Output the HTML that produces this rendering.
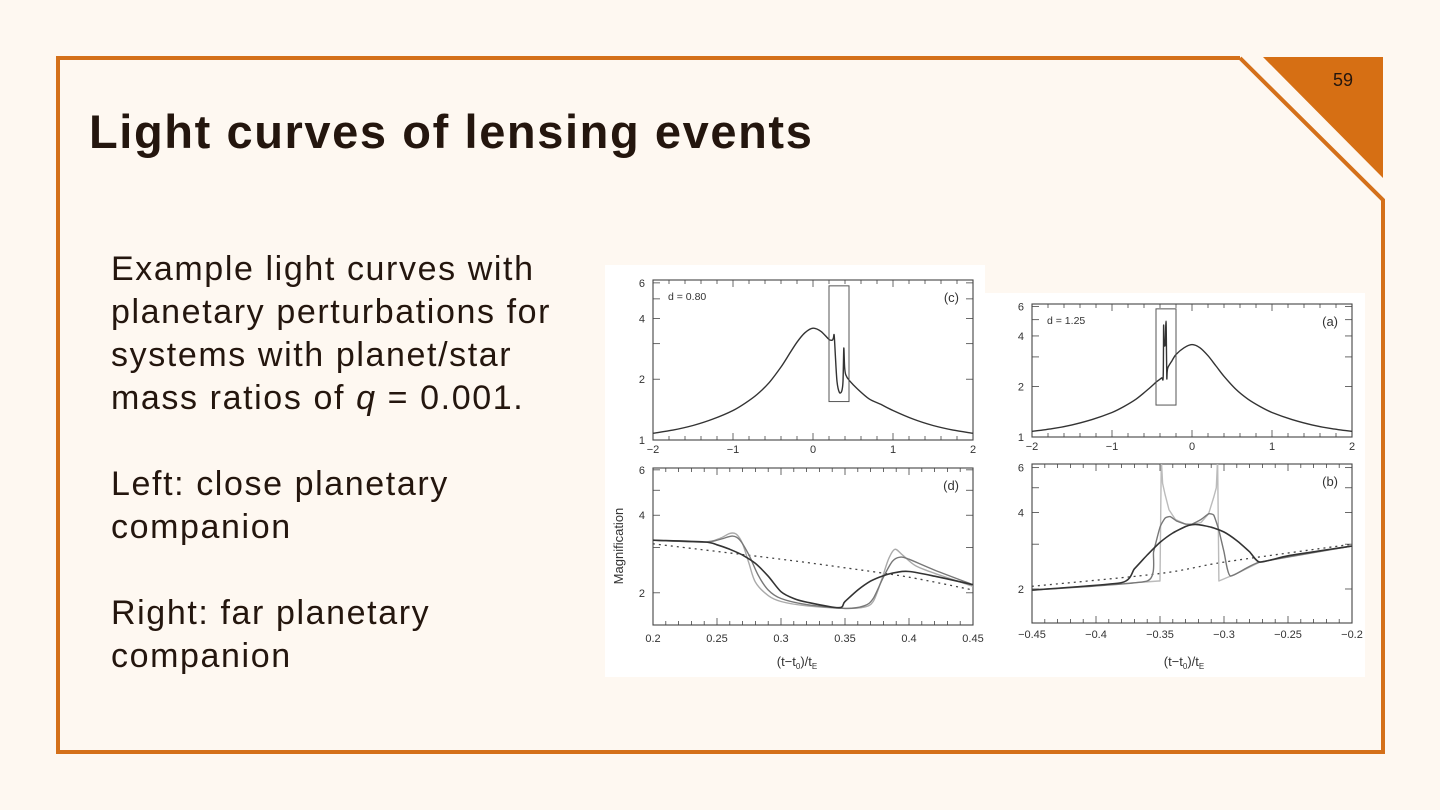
<!DOCTYPE html>
<html><head><meta charset="utf-8">
<style>
html,body{margin:0;padding:0;}
body{width:1440px;height:810px;background:#fef8f1;position:relative;overflow:hidden;font-family:"Liberation Sans",sans-serif;color:#24160e;}
#title{position:absolute;left:89px;top:104px;font-size:47px;font-weight:bold;letter-spacing:1.6px;white-space:nowrap;}
#body-text{position:absolute;left:111px;top:248px;font-size:34px;line-height:43px;letter-spacing:1.6px;white-space:nowrap;}
#body-text p{margin:0 0 43px 0;}
#pg{position:absolute;left:1333px;top:70px;font-size:18px;color:#24160e;}
svg{position:absolute;left:0;top:0;}
</style></head><body>
<svg id="deco" width="1440" height="810">
  <polyline points="1240,58 58,58 58,752 1383,752 1383,200 1240,58" fill="none" stroke="#d4701a" stroke-width="4"/>
  <polygon points="1263,57 1383,57 1383,178" fill="#d66f14"/>
  <rect x="605" y="265" width="380" height="412" fill="#fff"/>
  <rect x="985" y="293" width="380" height="384" fill="#fff"/>
</svg>
<div id="pg">59</div>
<div id="title">Light curves of lensing events</div>
<div id="body-text">
<p>Example light curves with<br>planetary perturbations for<br>systems with planet/star<br>mass ratios of <i>q</i> = 0.001.</p>
<p>Left: close planetary<br>companion</p>
<p>Right: far planetary<br>companion</p>
</div>
<svg id="chart" width="1440" height="810"></svg>
<script>
// Panel c (d=0.80, wide)
const cX=[-2,-1.75,-1.5,-1.25,-1,-0.85,-0.7,-0.55,-0.4,-0.3,-0.2,-0.1,0,0.1,0.2,0.24,0.255,0.265,0.28,0.3,0.33,0.36,0.375,0.385,0.395,0.41,0.45,0.55,0.7,0.85,1,1.25,1.5,1.75,2];
const cY=[1.08,1.12,1.18,1.27,1.4,1.52,1.68,1.92,2.3,2.65,3.05,3.4,3.58,3.45,3.15,3.12,3.2,3.3,2.6,1.95,1.72,1.75,1.95,2.85,2.3,2.1,1.98,1.8,1.6,1.5,1.4,1.27,1.18,1.12,1.08];
// Panel d (zoom of c)
const dDotX=[0.2,0.3,0.35,0.4,0.45];
const dDotY=[3.1,2.7,2.5,2.3,2.05];
const dLightX=[0.2,0.24,0.252,0.26,0.265,0.27,0.275,0.28,0.29,0.3,0.32,0.35,0.365,0.372,0.378,0.384,0.389,0.395,0.405,0.42,0.45];
const dLightY=[3.2,3.15,3.25,3.4,3.38,3.1,2.6,2.2,1.95,1.85,1.78,1.74,1.76,1.85,2.2,2.7,2.95,2.8,2.55,2.38,2.12];
const dMedX=[0.2,0.24,0.252,0.262,0.268,0.275,0.282,0.29,0.3,0.32,0.35,0.365,0.372,0.38,0.387,0.393,0.4,0.42,0.45];
const dMedY=[3.2,3.15,3.22,3.32,3.2,2.8,2.35,2.05,1.9,1.8,1.74,1.78,1.9,2.3,2.65,2.75,2.7,2.45,2.15];
const dDarkX=[0.2,0.24,0.25,0.26,0.27,0.28,0.29,0.3,0.31,0.32,0.345,0.35,0.36,0.37,0.38,0.39,0.4,0.42,0.45];
const dDarkY=[3.2,3.15,3.07,2.95,2.8,2.6,2.32,2.02,1.9,1.84,1.75,1.85,2.05,2.22,2.33,2.4,2.42,2.32,2.15];
// Panel a (d=1.25, wide)
const aX=[-2,-1.75,-1.5,-1.25,-1,-0.85,-0.7,-0.55,-0.45,-0.38,-0.36,-0.355,-0.35,-0.345,-0.335,-0.325,-0.32,-0.315,-0.31,-0.3,-0.25,-0.2,-0.1,0,0.1,0.2,0.3,0.4,0.55,0.7,0.85,1,1.25,1.5,1.75,2];
const aY=[1.08,1.12,1.18,1.27,1.4,1.52,1.68,1.92,2.12,2.25,2.3,4.6,3.6,3.5,3.6,4.9,3.6,2.25,2.45,2.6,2.85,3.1,3.4,3.55,3.4,3.05,2.65,2.3,1.92,1.68,1.52,1.4,1.27,1.18,1.12,1.08];
// Panel b (zoom of a)
const bDotX=[-0.45,-0.35,-0.3,-0.2];
const bDotY=[2.05,2.3,2.55,3.0];
const bDarkX=[-0.45,-0.38,-0.37,-0.36,-0.35,-0.34,-0.33,-0.325,-0.32,-0.31,-0.3,-0.29,-0.28,-0.272,-0.25,-0.2];
const bDarkY=[1.98,2.12,2.4,2.72,3.05,3.32,3.52,3.58,3.58,3.5,3.35,3.1,2.8,2.55,2.7,2.95];
const bMedX=[-0.45,-0.36,-0.355,-0.35,-0.346,-0.342,-0.337,-0.33,-0.325,-0.318,-0.312,-0.308,-0.304,-0.3,-0.295,-0.272,-0.2];
const bMedY=[1.98,2.15,2.8,3.5,3.8,3.85,3.7,3.6,3.6,3.75,3.95,3.9,3.4,2.8,2.25,2.55,2.95];
const bLightX=[-0.45,-0.351,-0.35,-0.349,-0.348,-0.346,-0.343,-0.338,-0.33,-0.325,-0.318,-0.312,-0.308,-0.306,-0.305,-0.304,-0.29,-0.272,-0.2];
const bLightY=[1.98,2.15,2.15,6.5,5.2,4.7,4.1,3.75,3.6,3.58,3.65,3.95,4.6,5.0,6.5,2.15,2.3,2.55,2.95];

const NS='http://www.w3.org/2000/svg';
const svg=document.getElementById('chart');
function mk(tag,attrs,parent){const e=document.createElementNS(NS,tag);for(const k in attrs)e.setAttribute(k,attrs[k]);(parent||svg).appendChild(e);return e;}
function smoothPath(p,t){
  let d='M'+p[0][0].toFixed(1)+','+p[0][1].toFixed(1);
  for(let i=0;i<p.length-1;i++){
    const p0=p[Math.max(0,i-1)],p1=p[i],p2=p[i+1],p3=p[Math.min(p.length-1,i+2)];
    const c1=[p1[0]+(p2[0]-p0[0])*t,p1[1]+(p2[1]-p0[1])*t];
    const c2=[p2[0]-(p3[0]-p1[0])*t,p2[1]-(p3[1]-p1[1])*t];
    d+=' C'+c1[0].toFixed(1)+','+c1[1].toFixed(1)+' '+c2[0].toFixed(1)+','+c2[1].toFixed(1)+' '+p2[0].toFixed(1)+','+p2[1].toFixed(1);
  }
  return d;
}
function panel(cfg){
  const g=mk('g',{});
  
  
  const L=cfg.l,R=cfg.r,T=cfg.t,B=cfg.b;
  const lmin=Math.log10(cfg.ymin),lmax=Math.log10(cfg.ymax);
  const sx=x=>L+(x-cfg.xmin)/(cfg.xmax-cfg.xmin)*(R-L);
  const sy=y=>B-(Math.log10(y)-lmin)/(lmax-lmin)*(B-T);
  const cp=mk('clipPath',{id:'cp-'+cfg.name},g);
  mk('rect',{x:L,y:T,width:R-L,height:B-T},cp);
  const nminor=Math.round((cfg.xmax-cfg.xmin)/cfg.xminor);
  for(let i=0;i<=nminor;i++){
    const x=cfg.xmin+i*cfg.xminor;const px=sx(x);
    const major=Math.abs(Math.round((x-cfg.xmin)/cfg.xmajor)*cfg.xmajor-(x-cfg.xmin))<1e-6;
    const len=major?7:4;
    mk('line',{x1:px,x2:px,y1:B,y2:B-len,stroke:'#444','stroke-width':0.8},g);
    mk('line',{x1:px,x2:px,y1:T,y2:T+len,stroke:'#444','stroke-width':0.8},g);
  }
  cfg.xlabels.forEach((lab,i)=>{
    const t=mk('text',{x:sx(cfg.xticks[i]),y:B+cfg.xlabdy,'font-size':11,'text-anchor':'middle',fill:'#333'},g);
    t.textContent=lab;
    
    
  });
  cfg.yticks.forEach(v=>{
    const py=sy(v);
    mk('line',{x1:L,x2:L+7,y1:py,y2:py,stroke:'#444','stroke-width':0.8},g);
    mk('line',{x1:R,x2:R-7,y1:py,y2:py,stroke:'#444','stroke-width':0.8},g);
  });
  cfg.ylabels.forEach((lab,i)=>{
    const t=mk('text',{x:L-8,y:sy(cfg.ylabvals[i])+4,'font-size':11,'text-anchor':'end',fill:'#333'},g);
    t.textContent=lab;
    
    
  });
  mk('rect',{x:L,y:T,width:R-L,height:B-T,fill:'none',stroke:'#444','stroke-width':1.1},g);
  cfg.series.forEach(s=>{
    const pts=s.x.map((x,i)=>[sx(x),sy(s.y[i])]);
    const ten=(s.tension===undefined)?0.15:s.tension;
    const p=mk('path',{d:smoothPath(pts,ten),fill:'none',stroke:s.c,'stroke-width':s.w||1.4,'stroke-dasharray':s.dash||'none','stroke-linejoin':'round','clip-path':'url(#cp-'+cfg.name+')'},g);
    
    
  });
  if(cfg.box){
    const bx=cfg.box;
    const r=mk('rect',{x:sx(bx[0]),y:sy(bx[3]),width:sx(bx[1])-sx(bx[0]),height:sy(bx[2])-sy(bx[3]),fill:'none',stroke:'#555','stroke-width':1},g);
    
    
  }
  const lt=mk('text',{x:R-14,y:T+22,'font-size':13,'text-anchor':'end',fill:'#333'},g);
  lt.textContent=cfg.tag;
  
  
  if(cfg.dlabel){
    const dt=mk('text',{x:L+15,y:T+20,'font-size':10.5,fill:'#333'},g);
    dt.textContent=cfg.dlabel;
    
    
  }
}
const wideX=[-2,-1,0,1,2], wideXL=['\u22122','\u22121','0','1','2'];
panel({name:'panel-c',l:653,r:973,t:280,b:440,xmin:-2,xmax:2,ymin:1,ymax:6.2,xminor:0.2,xmajor:1,xticks:wideX,xlabels:wideXL,xlabdy:13,
  yticks:[2,3,4,5,6],ylabvals:[1,2,4,6],ylabels:['1','2','4','6'],tag:'(c)',dlabel:'d = 0.80',box:[0.2,0.45,1.55,5.8],
  series:[{name:'curve-c',x:cX,y:cY,c:'#333'}]});
panel({name:'panel-d',l:653,r:973,t:468,b:625,xmin:0.2,xmax:0.45,ymin:1.5,ymax:6.1,xminor:0.01,xmajor:0.05,
  xticks:[0.2,0.25,0.3,0.35,0.4,0.45],xlabels:['0.2','0.25','0.3','0.35','0.4','0.45'],xlabdy:17,
  yticks:[2,3,4,5,6],ylabvals:[2,4,6],ylabels:['2','4','6'],tag:'(d)',
  series:[{name:'point-source-dotted',x:dDotX,y:dDotY,c:'#444',dash:'2,4',w:1.3},
          {name:'small-source-curve',x:dLightX,y:dLightY,c:'#aaa'},
          {name:'medium-source-curve',x:dMedX,y:dMedY,c:'#777'},
          {name:'large-source-curve',x:dDarkX,y:dDarkY,c:'#333',w:1.6}]});
panel({name:'panel-a',l:1032,r:1352,t:304,b:437,xmin:-2,xmax:2,ymin:1,ymax:6.2,xminor:0.2,xmajor:1,xticks:wideX,xlabels:wideXL,xlabdy:13,
  yticks:[2,3,4,5,6],ylabvals:[1,2,4,6],ylabels:['1','2','4','6'],tag:'(a)',dlabel:'d = 1.25',box:[-0.45,-0.2,1.55,5.8],
  series:[{name:'curve-a',x:aX,y:aY,c:'#333'}]});
panel({name:'panel-b',l:1032,r:1352,t:464,b:623,xmin:-0.45,xmax:-0.2,ymin:1.47,ymax:6.2,xminor:0.01,xmajor:0.05,
  xticks:[-0.45,-0.4,-0.35,-0.3,-0.25,-0.2],xlabels:['\u22120.45','\u22120.4','\u22120.35','\u22120.3','\u22120.25','\u22120.2'],xlabdy:15,
  yticks:[2,3,4,5,6],ylabvals:[2,4,6],ylabels:['2','4','6'],tag:'(b)',
  series:[{name:'point-source-dotted',x:bDotX,y:bDotY,c:'#444',dash:'2,4',w:1.3},
          {name:'small-source-curve',x:bLightX,y:bLightY,c:'#bbb',tension:0},
          {name:'medium-source-curve',x:bMedX,y:bMedY,c:'#777',tension:0.08},
          {name:'large-source-curve',x:bDarkX,y:bDarkY,c:'#333',w:1.6,tension:0.1}]});
function txt(x,y,s,name,rot){
  const t=mk('text',{x:x,y:y,'font-size':13,'text-anchor':'middle',fill:'#333'});
  if(rot)t.setAttribute('transform','rotate(-90 '+x+' '+y+')');
  t.innerHTML=s;
  
  
}
txt(623,546,'Magnification','y-axis-title',true);
txt(797,666,'(t\u2212t<tspan font-size="8" dy="3">0</tspan><tspan dy="-3">)/t</tspan><tspan font-size="8" dy="3">E</tspan>','x-axis-title-left');
txt(1184,666,'(t\u2212t<tspan font-size="8" dy="3">0</tspan><tspan dy="-3">)/t</tspan><tspan font-size="8" dy="3">E</tspan>','x-axis-title-right');
</script>
</body></html>
